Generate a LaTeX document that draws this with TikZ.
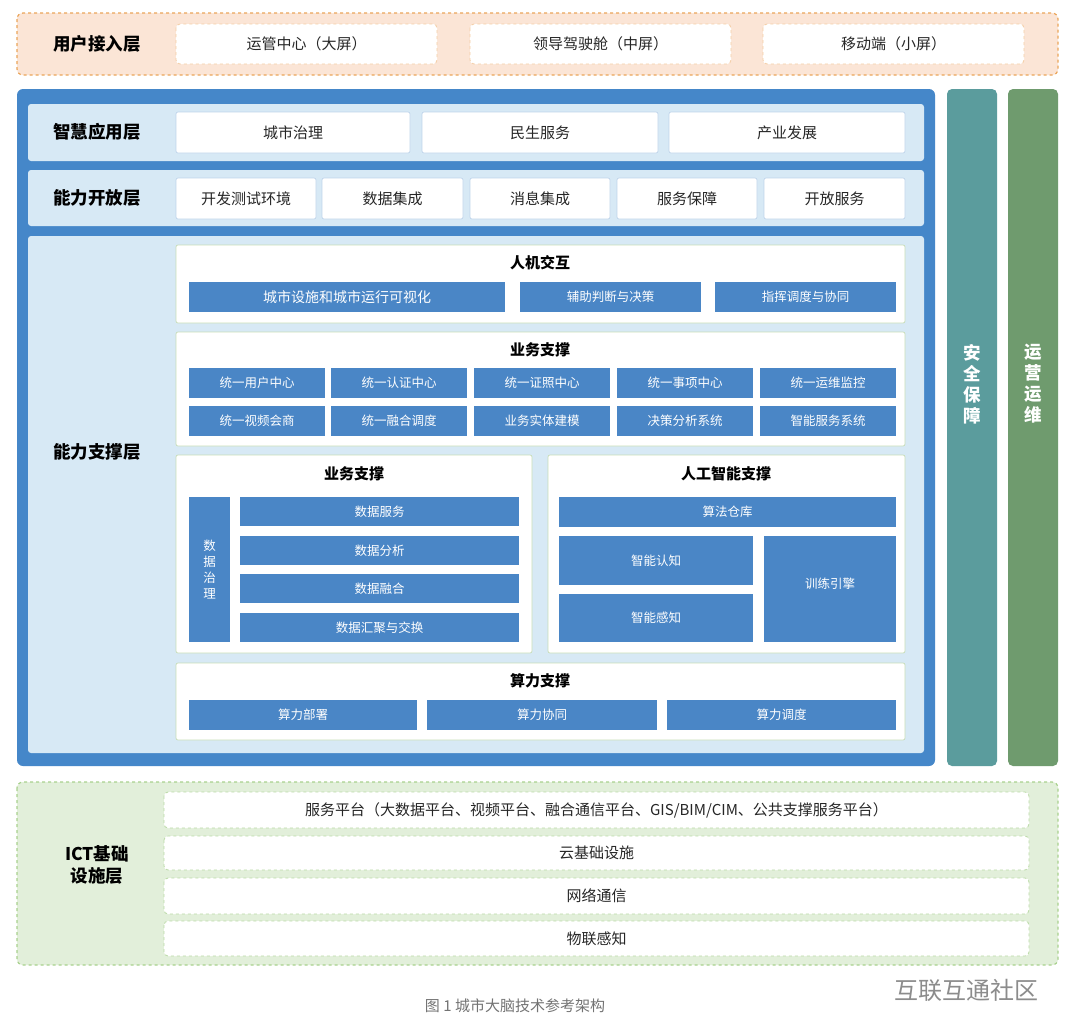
\documentclass[tikz,border=0pt]{standalone}
\usepackage{fontspec}
\setmainfont{Noto Sans CJK SC}
\begin{document}
\begin{tikzpicture}[x=1pt,y=-1pt,
 wbox/.style={fill=white,draw=panelb,rounded corners=2pt,line width=0.7pt},
 bbox/.style={fill=boxblue,draw=none,text=white,font=\fontsize{12.5}{14}\selectfont},
 lbl/.style={font=\fontsize{17.5}{20}\selectfont\bfseries,text=black},
 ttl/.style={font=\fontsize{15}{18}\selectfont\bfseries},
 txt/.style={font=\fontsize{15}{17}\selectfont,text=black!85}]
\definecolor{boxblue}{HTML}{4A86C6}
\definecolor{bigblue}{HTML}{4587C9}
\definecolor{rowblue}{HTML}{D7E9F5}
\definecolor{panelb}{HTML}{C8DDB8}
\definecolor{orgf}{HTML}{FBE5D6}
\definecolor{orgd}{HTML}{EBA55A}
\definecolor{grnf}{HTML}{E2EFDA}
\definecolor{grnd}{HTML}{A9D18E}
\definecolor{teal}{HTML}{5B9C9D}
\definecolor{sage}{HTML}{6F9B6E}
\useasboundingbox (0,0) rectangle (1080,1036);
\fill[white] (0,0) rectangle (1080,1036);
% user layer
\draw[fill=orgf,draw=orgd,dashed,line width=1.2pt,rounded corners=6pt] (17,13) rectangle (1058,75);
\node[lbl] (u) at (97,44) {用户接入层};
\foreach \a/\b/\t [count=\i] in {176/437/运管中心（大屏）,470/731/领导驾驶舱（中屏）,763/1024/移动端（小屏）}{
 \draw[fill=white,draw=orgd!55,dashed,line width=0.8pt,rounded corners=4pt] (\a,24) rectangle (\b,64);
 \node[txt] (u\i) at ({(\a+\b)/2},44) {\t};}
% big blue
\fill[bigblue,rounded corners=6pt] (17,89) rectangle (935,766);
\fill[rowblue,rounded corners=3pt] (28,104) rectangle (924,161);
\fill[rowblue,rounded corners=3pt] (28,170) rectangle (924,226);
\fill[rowblue,rounded corners=3pt] (28,236) rectangle (924,753);
\node[lbl] (a) at (97,132) {智慧应用层};
\node[lbl] (b) at (97,198) {能力开放层};
\node[lbl] (c) at (97,452) {能力支撑层};
\foreach \a/\b/\t [count=\i] in {176/410/城市治理,422/658/民生服务,669/905/产业发展}{
 \draw[wbox,draw=boxblue!35] (\a,112) rectangle (\b,153); \node[txt] (a\i) at ({(\a+\b)/2},132.5) {\t};}
\foreach \a/\b/\t [count=\i] in {176/316/开发测试环境,322/463/数据集成,470/610/消息集成,617/757/服务保障,764/905/开放服务}{
 \draw[wbox,draw=boxblue!35] (\a,178) rectangle (\b,219); \node[txt] (b\i) at ({(\a+\b)/2},198.5) {\t};}
% panels
\draw[wbox] (176,245) rectangle (905,323); \node[ttl] (p1) at (540,263) {人机交互};
\foreach \a/\b/\t [count=\i] in {189/505/城市设施和城市运行可视化,520/701/辅助判断与决策,715/896/指挥调度与协同}{
 \fill[boxblue] (\a,282) rectangle (\b,312); \node[bbox,font=\fontsize{\ifnum\i=1 14\else 12.5\fi}{16}\selectfont] (h\i) at ({(\a+\b)/2},297) {\t};}
\draw[wbox] (176,332) rectangle (905,446); \node[ttl] (p2) at (540,350) {业务支撑};
\foreach \a/\b/\t/\s [count=\i] in {189/325/统一用户中心/统一视频会商,331/467/统一认证中心/统一融合调度,474/610/统一证照中心/业务实体建模,617/753/统一事项中心/决策分析系统,760/896/统一运维监控/智能服务系统}{
 \fill[boxblue] (\a,368) rectangle (\b,398); \node[bbox] (s\i) at ({(\a+\b)/2},383) {\t};
 \fill[boxblue] (\a,406) rectangle (\b,436); \node[bbox] (t\i) at ({(\a+\b)/2},421) {\s};}
\draw[wbox] (176,455) rectangle (532,653); \node[ttl] (p3) at (354,474) {业务支撑};
\fill[boxblue] (189,497) rectangle (230,642);
\node[bbox,align=center,font=\fontsize{12.5}{16}\selectfont] (dz) at (209.5,569.5) {数\\据\\治\\理};
\foreach \y/\t [count=\i] in {497/数据服务,536/数据分析,574/数据融合,613/数据汇聚与交换}{
 \fill[boxblue] (240,\y) rectangle (519,\y+29); \node[bbox] (d\i) at (379.5,\y+14.5) {\t};}
\draw[wbox] (548,455) rectangle (905,653); \node[ttl] (p4) at (726,474) {人工智能支撑};
\fill[boxblue] (559,497) rectangle (896,527); \node[bbox] (ai1) at (727.5,512) {算法仓库};
\fill[boxblue] (559,536) rectangle (753,585); \node[bbox] (ai2) at (656,560.5) {智能认知};
\fill[boxblue] (559,594) rectangle (753,642); \node[bbox] (ai3) at (656,618) {智能感知};
\fill[boxblue] (764,536) rectangle (896,642); \node[bbox] (ai4) at (830,584) {训练引擎};
\draw[wbox] (176,663) rectangle (905,740); \node[ttl] (p5) at (540,681) {算力支撑};
\foreach \a/\b/\t [count=\i] in {189/417/算力部署,427/657/算力协同,667/896/算力调度}{
 \fill[boxblue] (\a,700) rectangle (\b,730); \node[bbox] (k\i) at ({(\a+\b)/2},715) {\t};}
% side columns
\fill[teal,rounded corners=5pt] (947,89) rectangle (997,766);
\node[lbl,text=white,align=center,font=\fontsize{17.5}{21}\selectfont\bfseries] (sec) at (972,384) {安\\全\\保\\障};
\fill[sage,rounded corners=5pt] (1008,89) rectangle (1058,766);
\node[lbl,text=white,align=center,font=\fontsize{17.5}{21}\selectfont\bfseries] (ops) at (1033,384) {运\\营\\运\\维};
% ICT
\draw[fill=grnf,draw=grnd,dashed,line width=1.2pt,rounded corners=6pt] (17,782) rectangle (1058,965);
\node[lbl,align=center,font=\fontsize{17.5}{22}\selectfont\bfseries] (ict) at (97,865) {ICT基础\\设施层};
\foreach \a/\b/\t [count=\i] in {792/828/{服务平台（大数据平台、视频平台、融合通信平台、GIS/BIM/CIM、公共支撑服务平台）},836/870/云基础设施,878/914/网络通信,921/956/物联感知}{
 \draw[fill=white,draw=grnd!80,dashed,line width=0.8pt,rounded corners=4pt] (164,\a) rectangle (1029,\b);
 \node[txt] (i\i) at (596.5,{(\a+\b)/2}) {\t};}
\node[font=\fontsize{15}{18}\selectfont,text=black!55] (cap) at (515,1006) {图 1 城市大脑技术参考架构};
\node[font=\fontsize{24}{26}\selectfont,text=black!45] (wm) at (966,990) {互联互通社区};
\end{tikzpicture}
\end{document}
